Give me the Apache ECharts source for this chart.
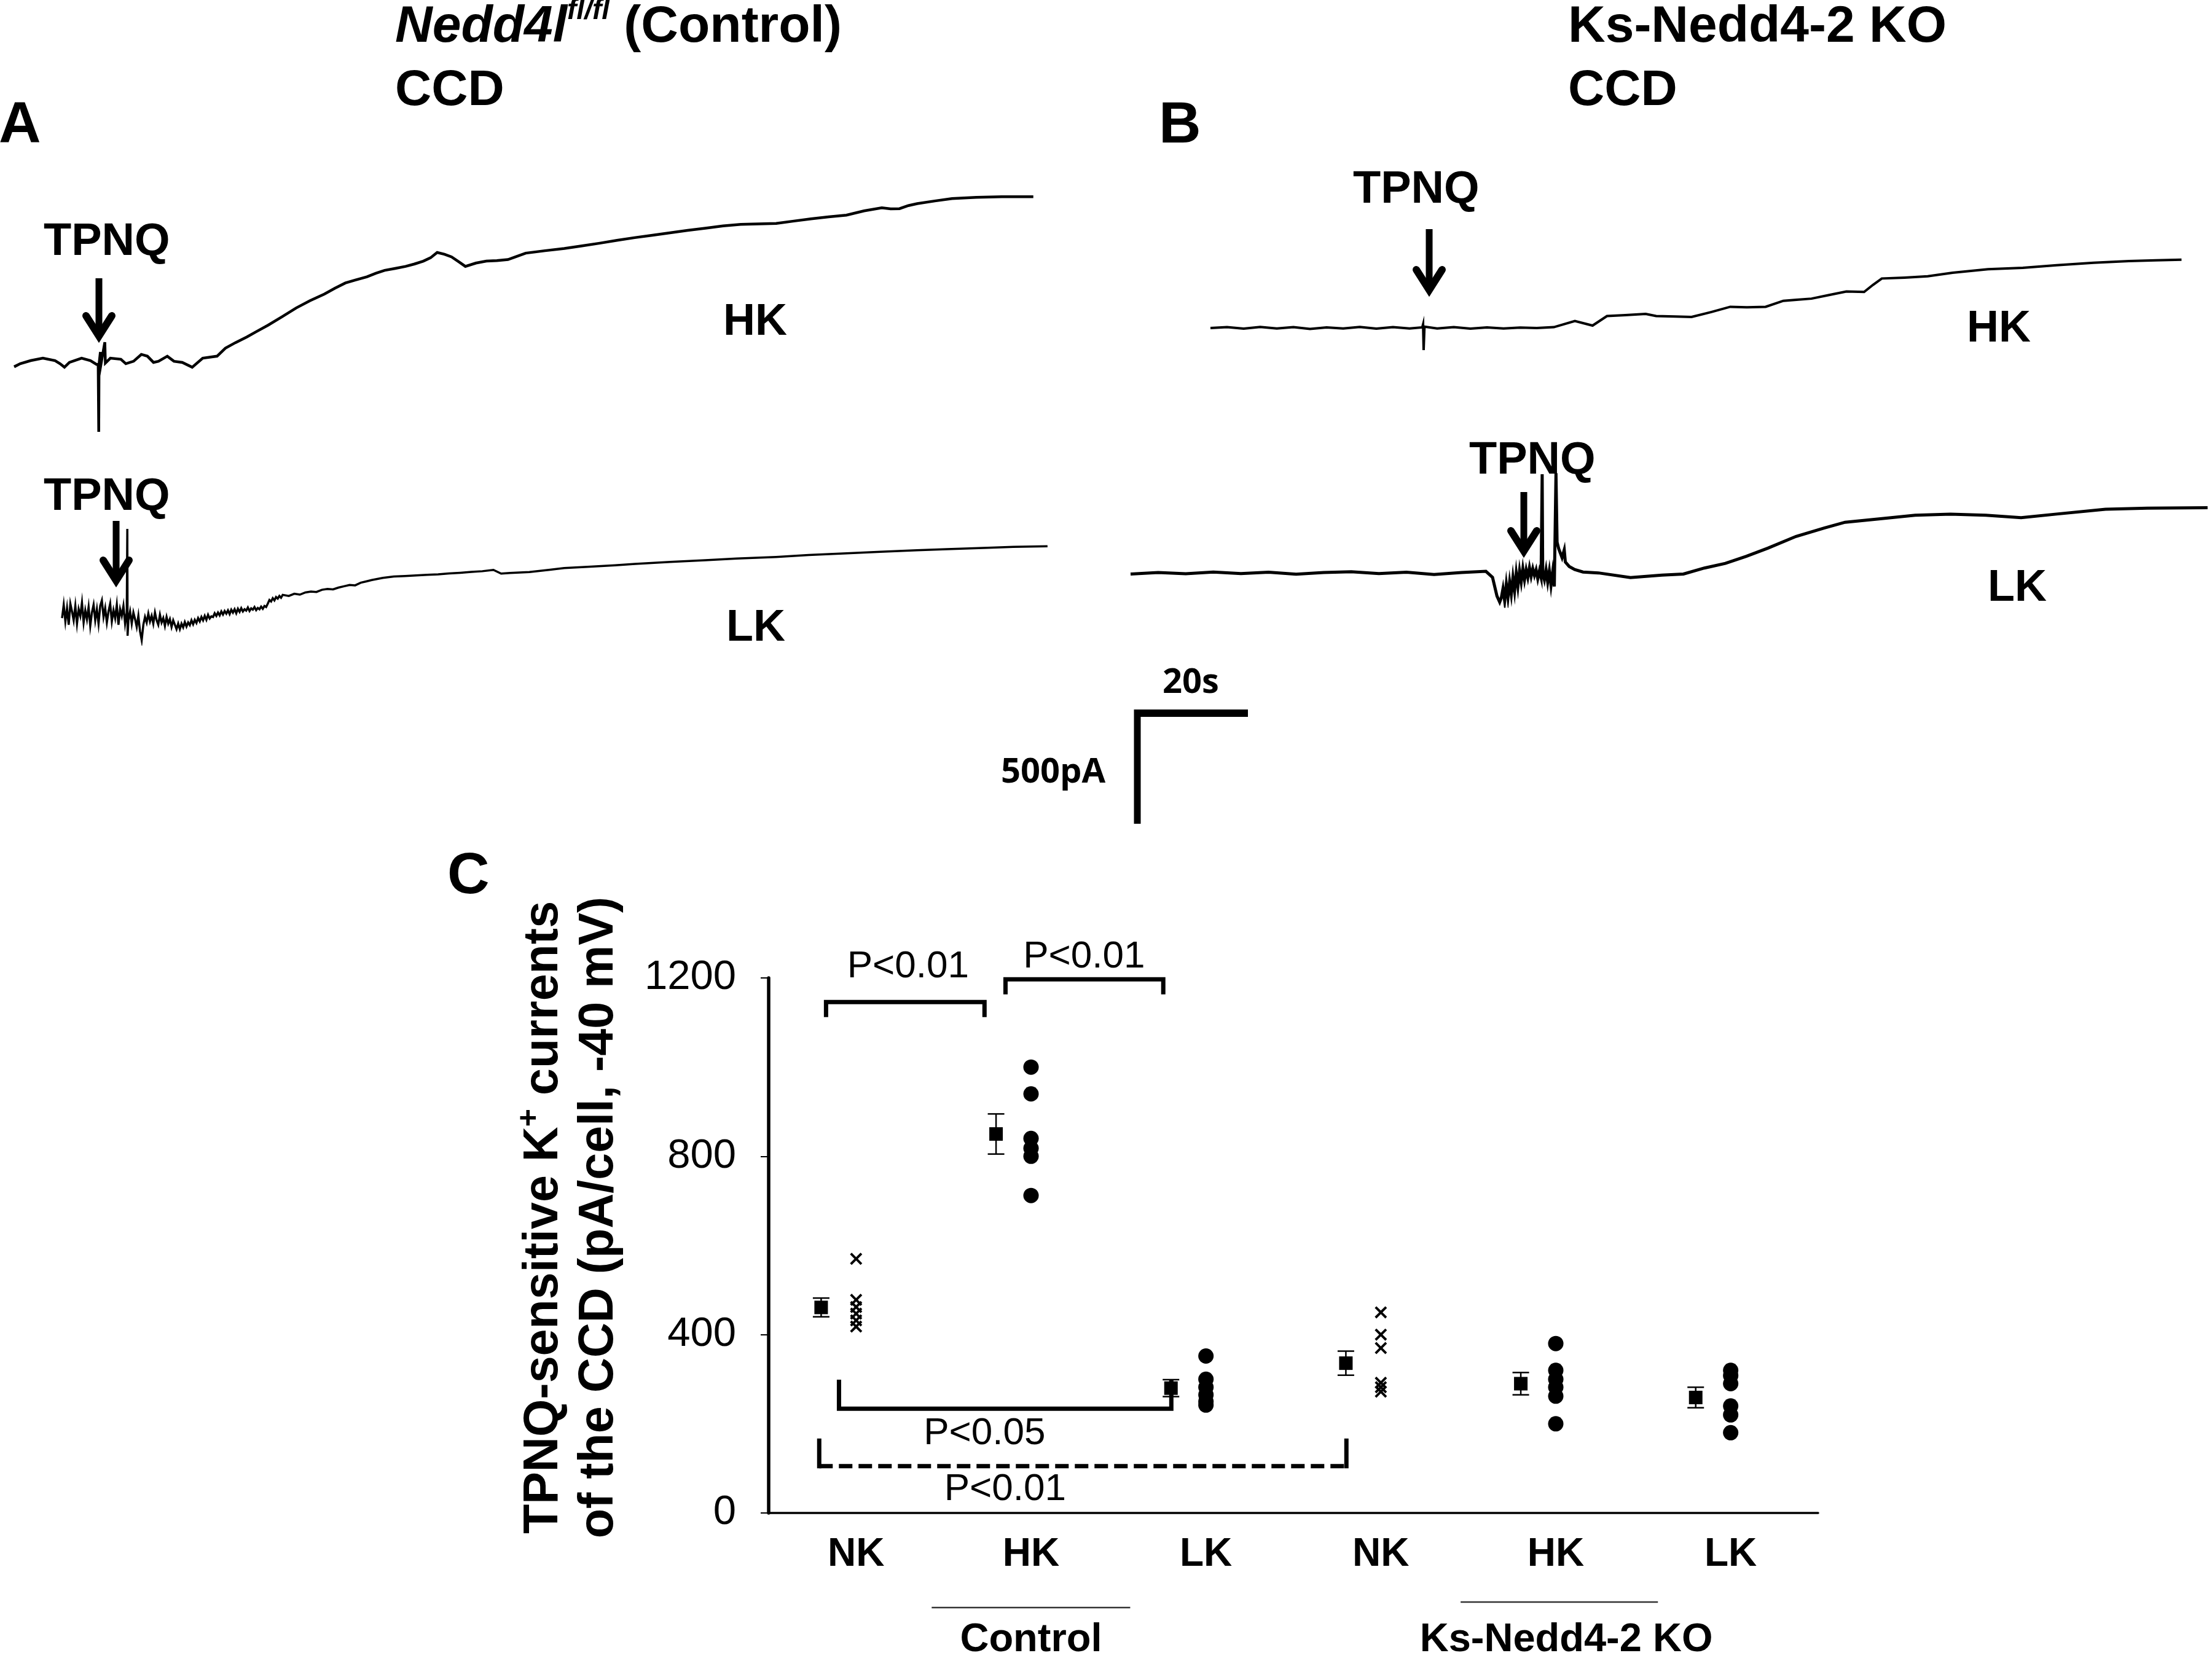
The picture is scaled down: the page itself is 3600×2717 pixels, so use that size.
<!DOCTYPE html>
<html><head><meta charset="utf-8">
<script src="https://cdn.jsdelivr.net/npm/echarts@6/dist/echarts.min.js"></script>
<style>html,body{margin:0;padding:0;background:#fff}#c{width:3600px;height:2717px}</style>
</head><body><div id="c"></div>
<script>
const FONT = "'Liberation Sans', Arial, Helvetica, sans-serif";
const SCALE_FONT = "'Open Sans', 'DejaVu Sans', sans-serif";

// ---------- Panel C data (pA/cell) ----------
const categories = ['NK', 'HK', 'LK', 'NK', 'HK', 'LK'];
const groupNames = ['Control', 'Ks-Nedd4-2 KO'];
const yTickValues = [0, 400, 800, 1200];
const meanValues = [461, 850, 280, 336, 290, 259];
const semValues  = [21, 45, 19, 27, 25, 23];
const ctrlNK = [570, 478, 462, 447, 432, 418];
const ctrlHK = [1000, 940, 840, 818, 800, 712];
const ctrlLK = [352, 300, 282, 265, 250, 242];
const koNK   = [450, 400, 370, 292, 282, 272];
const koHK   = [380, 320, 300, 282, 262, 200];
const koLK   = [320, 308, 290, 240, 220, 180];

// ---------- Panels A/B current traces: [time s, current pA relative to start] ----------
const traceA_HK = [[0,-17],[1.1,-3],[3.0,11],[5.2,22],[7.4,11],[8.3,-3],[9.1,-19],[10.0,3],[12.2,22],[13.8,11],[14.9,-6],[15.2,-6],[15.3,-311],[15.35,-6],[15.6,50],[15.7,-6],[16.4,94],[16.5,0],[17.4,22],[19.3,17],[20.2,-3],[21.6,8],[23,39],[24.1,31],[25.2,3],[26.1,8],[27.7,31],[28.9,8],[30.4,3],[32.2,-19],[34.1,22],[36.7,31],[38.2,67],[40,92],[42.1,118],[43.8,142],[45.9,171],[48.5,210],[51.0,249],[53.5,282],[56.1,312],[58,338],[59.9,362],[61.8,376],[63.8,390],[65.4,406],[67.0,419],[68.9,428],[70.8,437],[72.4,448],[74.0,461],[75.3,476],[76.5,500],[77.8,492],[79.1,480],[80.4,458],[81.6,437],[83.5,452],[85.4,461],[87.3,463],[89.3,468],[90.9,482],[92.5,497],[96,508],[99.5,518],[102.7,530],[105.9,542],[109,555],[112.2,567],[115.4,578],[118.6,589],[121.8,600],[125,610],[128.2,620],[131.4,627],[134.6,629],[137.8,631],[141,642],[144.1,652],[147.3,661],[150.5,669],[153.7,688],[156.9,702],[158.5,697],[160.1,698],[161.7,712],[163.3,721],[166.5,733],[169.6,744],[174,749],[178.6,752],[184.3,752]];

// Panel A LK: noisy start recorded with a 0.3 s sample interval, then a slower part
const traceA_LK_dt = 0.3;
const traceA_LK_pre = [-20,40,-35,25,-50,45,10,-30,35,-45,20,-10,50,-40,15,-25,30,-55,5,40,-30,20,-45,35,60,-15,25,-40,10,45,-35,15,-20,40,-50,20,-10,35,-45,5];            // t = 0 .. 11.7 s
const traceA_LK_spike = [[11.8,383],[11.85,-100]];
const traceA_LK_mid = [-30,10,-45,5,-25,-60,-10,-80,-120,-50,-15,-40,0,-35,-10,-45,5,-30,-50,-5,-40,-20,-55,-15,-45,-25,-60,-30,-50,-70,-45];                                // t = 12.0 .. 21.0 s
const traceA_LK_rise = [-70,-45,-62,-38,-58,-40,-52,-30,-48,-28,-42,-20,-35,-15,-30,-10,-28,-5,-22,-12,-15,2,-10,5,-8,10,-4,12,0,15,-2,18,5,20,2,22,8,25,10,20,14,28,12,24,18,30,16,26,20,32,22,35,30,45,62,55,70,60,75,68,80,72,85]; // t = 21.3 .. 39.9 s
const traceA_LK_tail = [[41,80],[42,90],[43,86],[44,96],[45,100],[46,98],[47,108],[48,112],[49,110],[50,118],[51,124],[52,130],[53,128],[54,140],[55,146],[56,152],[58,162],[60,168],[62,170],[64,173],[66,176],[68,178],[70,182],[72,185],[74,189],[76,192],[78,198],[79.4,181],[81,184],[84.5,188],[88,198],[90.8,206],[95,212],[100,219],[103.6,225],[110,234],[116.3,242],[122,249],[129.1,256],[135,265],[141.9,273],[148,280],[154.6,287],[160,292],[167.4,298],[172,302],[178.2,305]];

const traceB_HK = [[0,0],[3,4],[6,-3],[9,5],[12,-2],[15,4],[18,-4],[21,3],[24,-2],[27,5],[30,-3],[33,4],[36,-2],[38.3,3],[38.45,17],[38.55,-100],[38.7,6],[41,-2],[44,4],[47,-3],[50,3],[53,-2],[56,2],[59,0],[62.1,4],[65.9,32],[69.1,11],[71.7,54],[75,58],[78.7,64],[80.6,54],[84,52],[87.0,50],[90.5,72],[94.0,96],[97,94],[100.4,96],[103.6,123],[106,128],[108.7,133],[112,150],[115.0,165],[118.2,163],[119.8,195],[121.4,224],[125.5,228],[129.7,234],[134.2,250],[140.6,266],[146.9,272],[153,284],[159.7,295],[166.1,303],[171,306],[175.6,309]];

const traceB_LK = [[0,-4],[5,3],[10,-3],[15,5],[20,-2],[25,4],[30,-5],[35,3],[40,6],[45,-2],[50,4],[55,-6],[60,3],[64.4,8],[65.6,-19],[66.4,-103],[66.9,-131],[67.2,-111],[67.5,-70],[67.8,-125],[68.1,-50],[68.4,-110],[68.7,-40],[69.0,-95],[69.3,-20],[69.6,-80],[69.9,0],[70.2,-60],[70.5,10],[70.8,-40],[71.1,20],[71.4,-30],[71.7,15],[72.0,-20],[72.3,25],[72.6,-15],[72.9,20],[73.2,-10],[73.5,15],[73.8,-25],[74.1,10],[74.4,-20],[74.6,447],[74.7,0],[75.0,-30],[75.3,15],[75.6,-40],[75.9,10],[76.2,-55],[76.5,5],[76.8,-60],[77.1,452],[77.3,140],[77.6,110],[77.9,90],[78.2,70],[78.6,105],[78.8,50],[79.5,30],[80.5,16],[82,5],[84.8,1],[90.6,-20],[96.3,-9],[100.2,-4],[104.0,23],[107.8,44],[111.6,76],[115.5,113],[120.6,166],[125.7,204],[129.5,230],[135.9,246],[142.2,262],[148.6,267],[155.0,262],[161.4,251],[167.8,267],[176.7,289],[184.3,294],[195.2,296]];

// Scale bar values
const scaleTime = 20;     // s
const scaleCurrent = 500; // pA

// assemble the sampled A-LK segments into [t, pA] pairs
function sampled(t0, dt, vals) { return vals.map((v, k) => [+(t0 + k * dt).toFixed(2), v]); }
const traceA_LK = [].concat(
  sampled(0, traceA_LK_dt, traceA_LK_pre), traceA_LK_spike,
  sampled(12.0, traceA_LK_dt, traceA_LK_mid), sampled(21.3, traceA_LK_dt, traceA_LK_rise), traceA_LK_tail);

// ---------- layout ----------
const PX_PER_S = 9, PX_PER_PA = 0.36;
function traceLayout(x0, y0, tMax, iMin, iMax) {
  return { grid: { left: x0, top: y0 - iMax * PX_PER_PA, width: tMax * PX_PER_S, height: (iMax - iMin) * PX_PER_PA },
           x: { min: 0, max: tMax }, y: { min: iMin, max: iMax } };
}
const traces = [
  { data: traceA_HK, L: traceLayout(23, 591, 186, -330, 790), w: 4.5 },
  { data: traceA_LK, L: traceLayout(101, 999, 180, -140, 400), w: 3.5 },
  { data: traceB_HK, L: traceLayout(1970, 534, 177, -110, 460), w: 4 },
  { data: traceB_LK, L: traceLayout(1840, 933, 196, -150, 500), w: 5 }
];

const grids = traces.map(t => Object.assign({ containLabel: false }, t.L.grid));
grids.push({ left: 1251, top: 1592, width: 1708, height: 871, containLabel: false });

const xAxes = traces.map((t, i) => ({ type: 'value', gridIndex: i, min: t.L.x.min, max: t.L.x.max, show: false }));
const yAxes = traces.map((t, i) => ({ type: 'value', gridIndex: i, min: t.L.y.min, max: t.L.y.max, show: false }));

xAxes.push({
  type: 'category', gridIndex: 4, data: categories.map((c, i) => c + '_' + i), boundaryGap: true,
  axisLine: { lineStyle: { color: '#000', width: 3.5 } },
  axisTick: { alignWithLabel: true, length: 13, lineStyle: { color: '#000', width: 2 } },
  axisLabel: { interval: 0, margin: 36, color: '#000', fontFamily: FONT, fontWeight: 'bold', fontSize: 64,
               formatter: (v, i) => categories[i] },
  splitLine: { show: false }
});
yAxes.push({
  type: 'value', gridIndex: 4, min: yTickValues[0], max: yTickValues[yTickValues.length - 1], interval: 400,
  axisLine: { show: true, lineStyle: { color: '#000', width: 5.5 } },
  axisTick: { show: true, length: 13, lineStyle: { color: '#000', width: 2 } },
  axisLabel: { margin: 53, color: '#000', fontFamily: FONT, fontSize: 67, formatter: v => String(v) },
  splitLine: { show: false }
});

const series = traces.map((t, i) => ({
  type: 'line', xAxisIndex: i, yAxisIndex: i, data: t.data, showSymbol: false, symbol: 'none',
  lineStyle: { color: '#000', width: t.w, join: 'miter' }, animation: false, silent: true
}));

const crossPath = 'path://M0,1.4L1.4,0L5,3.6L8.6,0L10,1.4L6.4,5L10,8.6L8.6,10L5,6.4L1.4,10L0,8.6L3.6,5Z';
const indiv = [ctrlNK, ctrlHK, ctrlLK, koNK, koHK, koLK];
const crossData = [], dotData = [];
indiv.forEach((arr, i) => arr.forEach(v => (categories[i] === 'NK' ? crossData : dotData).push([i, v])));

series.push({ type: 'scatter', xAxisIndex: 4, yAxisIndex: 4, data: crossData, symbol: crossPath, symbolSize: 20,
              itemStyle: { color: '#000', opacity: 1 }, silent: true });
series.push({ type: 'scatter', xAxisIndex: 4, yAxisIndex: 4, data: dotData, symbol: 'circle', symbolSize: 25,
              itemStyle: { color: '#000', opacity: 1 }, silent: true });
series.push({
  type: 'custom', xAxisIndex: 4, yAxisIndex: 4, silent: true,
  data: meanValues.map((m, i) => [i, m, semValues[i]]),
  renderItem: function (params, api) {
    const i = api.value(0), m = api.value(1), s = api.value(2);
    const band = api.size([1, 0])[0];
    const c = api.coord([i, m]);
    const x = c[0] - 0.2 * band;
    const yT = api.coord([i, m + s])[1], yB = api.coord([i, m - s])[1];
    const st = { stroke: '#000', lineWidth: 2.5 };
    return { type: 'group', children: [
      { type: 'line', shape: { x1: x, y1: yT, x2: x, y2: yB }, style: st },
      { type: 'line', shape: { x1: x - 13.5, y1: yT, x2: x + 13.5, y2: yT }, style: st },
      { type: 'line', shape: { x1: x - 13.5, y1: yB, x2: x + 13.5, y2: yB }, style: st },
      { type: 'rect', shape: { x: x - 11, y: c[1] - 11, width: 22, height: 22 }, style: { fill: '#000' } }
    ]};
  }
});

const chart = echarts.init(document.getElementById('c'), null, { renderer: 'canvas', width: 3600, height: 2717 });
chart.setOption({ animation: false, backgroundColor: '#fff', grid: grids, xAxis: xAxes, yAxis: yAxes, series: series });

// ---------- annotations ----------
function T(text, x, y, size, opts) {
  opts = opts || {};
  return { type: 'text', x: x, y: y, rotation: opts.rotation || 0, silent: true,
    style: { text: text, fill: '#000', fontFamily: opts.family || FONT, fontSize: size,
             fontWeight: opts.weight || 'bold', fontStyle: opts.style || 'normal',
             align: opts.align || 'left', verticalAlign: 'middle', rich: opts.rich } };
}
function arrow(x, top, tip) {
  return [
    { type: 'line', silent: true, shape: { x1: x, y1: top, x2: x, y2: tip - 18 }, style: { stroke: '#000', lineWidth: 11 } },
    { type: 'polyline', silent: true, shape: { points: [[x - 21, tip - 46], [x, tip - 13], [x + 21, tip - 46]] },
      style: { stroke: '#000', lineWidth: 12, lineCap: 'round', lineJoin: 'miter', miterLimit: 10, fill: null } }
  ];
}
const g = [];
// panel headings
g.push(T('A', -2, 206, 95));
g.push(T('B', 1886, 206, 95));
g.push(T('C', 728, 1428, 95));
g.push({ type: 'text', x: 643, y: -5, silent: true, style: {
  text: '{it|Nedd4l}{sup|fl/fl}{n| (Control)}', verticalAlign: 'top', align: 'left', fill: '#000',
  rich: {
    it:  { fontFamily: FONT, fontSize: 84, fontWeight: 'bold', fontStyle: 'italic', lineHeight: 100 },
    sup: { fontFamily: FONT, fontSize: 46, fontWeight: 'bold', fontStyle: 'italic', lineHeight: 70, verticalAlign: 'top' },
    n:   { fontFamily: FONT, fontSize: 84, fontWeight: 'bold', lineHeight: 100 }
  } } });
g.push(T('CCD', 643, 148, 82));
g.push(T('Ks-Nedd4-2 KO', 2552, 45, 84));
g.push(T('CCD', 2552, 148, 82));
// trace labels
g.push(T('TPNQ', 71, 395, 74));
g.push(T('TPNQ', 71, 810, 74));
g.push(T('TPNQ', 2202, 310, 74));
g.push(T('TPNQ', 2391, 751, 74));
g.push(T('HK', 1177, 525, 72));
g.push(T('LK', 1182, 1023, 72));
g.push(T('HK', 3201, 536, 72));
g.push(T('LK', 3235, 958, 72));
[].push.apply(g, arrow(161, 453, 560));
[].push.apply(g, arrow(189, 848, 958));
[].push.apply(g, arrow(2326, 373, 485));
[].push.apply(g, arrow(2480, 801, 910));
// scale bar
const sbX = 1851, sbY = 1161;
g.push({ type: 'line', silent: true, shape: { x1: sbX - 5, y1: sbY, x2: sbX + scaleTime * PX_PER_S, y2: sbY }, style: { stroke: '#000', lineWidth: 12 } });
g.push({ type: 'line', silent: true, shape: { x1: sbX, y1: sbY - 6, x2: sbX, y2: sbY + scaleCurrent * PX_PER_PA }, style: { stroke: '#000', lineWidth: 11 } });
g.push(T(scaleTime + 's', 1892, 1112, 56, { family: SCALE_FONT }));
g.push(T(scaleCurrent + 'pA', 1629, 1258, 56, { family: SCALE_FONT }));
// y-axis title
g.push({ type: 'text', x: 885, y: 1982, rotation: Math.PI / 2, silent: true, style: {
  text: '{n|TPNQ-sensitive K}{s|+}{n| currents}', align: 'center', verticalAlign: 'middle', fill: '#000',
  rich: { n: { fontFamily: FONT, fontSize: 79, fontWeight: 'bold', lineHeight: 95 },
          s: { fontFamily: FONT, fontSize: 50, fontWeight: 'bold', lineHeight: 60, verticalAlign: 'top' } } } });
g.push(T('of the CCD (pA/cell, -40 mV)', 975, 1982, 79, { rotation: Math.PI / 2, align: 'center' }));

// significance brackets (positions in category / value units)
const sigBrackets = [
  { x1: -0.172, x2: 0.734, y: 1146, leg: 1112, label: 'P<0.01', lx: 0.297, ly: 1225, dashed: false },
  { x1: 0.854,  x2: 1.756, y: 1197, leg: 1163, label: 'P<0.01', lx: 1.303, ly: 1247, dashed: false },
  { x1: -0.098, x2: 1.802, y: 234,  leg: 299,  label: 'P<0.05', lx: 0.734, ly: 178,  dashed: false },
  { x1: -0.211, x2: 2.803, y: 105,  leg: 167,  label: 'P<0.01', lx: 0.852, ly: 53,   dashed: true }
];
const p0 = chart.convertToPixel({ gridIndex: 4 }, [0, 0]);
const p1 = chart.convertToPixel({ gridIndex: 4 }, [1, 0]);
const band = p1[0] - p0[0];
const X = c => p0[0] + c * band;
const Y = v => chart.convertToPixel({ gridIndex: 4 }, [0, v])[1];
sigBrackets.forEach(b => {
  const xa = X(b.x1), xb = X(b.x2), yb = Y(b.y), yl = Y(b.leg);
  if (!b.dashed) {
    g.push({ type: 'polyline', silent: true, shape: { points: [[xa, yl], [xa, yb], [xb, yb], [xb, yl]] },
             style: { stroke: '#000', lineWidth: 7, fill: null, lineJoin: 'miter' } });
  } else {
    g.push({ type: 'line', silent: true, shape: { x1: xa, y1: yb, x2: xb, y2: yb },
             style: { stroke: '#000', lineWidth: 7, lineDash: [22, 10] } });
    g.push({ type: 'line', silent: true, shape: { x1: xa, y1: yl, x2: xa, y2: yb + 3.5 }, style: { stroke: '#000', lineWidth: 7 } });
    g.push({ type: 'line', silent: true, shape: { x1: xb, y1: yl, x2: xb, y2: yb + 3.5 }, style: { stroke: '#000', lineWidth: 7 } });
  }
  g.push(T(b.label, X(b.lx), Y(b.ly), 62, { weight: 'normal', align: 'center' }));
});
// group underlines and names
const groupSpans = [[0.432, 1.567, 2617, 2670, 1.0], [3.456, 4.584, 2608, 2670, 4.06]];
groupSpans.forEach((s, k) => {
  g.push({ type: 'line', silent: true, shape: { x1: X(s[0]), y1: s[2], x2: X(s[1]), y2: s[2] }, style: { stroke: '#333', lineWidth: 2.5 } });
  g.push(T(groupNames[k], X(s[4]), s[3], 65, { align: 'center' }));
});

chart.setOption({ graphic: { elements: g } });
</script></body></html>
